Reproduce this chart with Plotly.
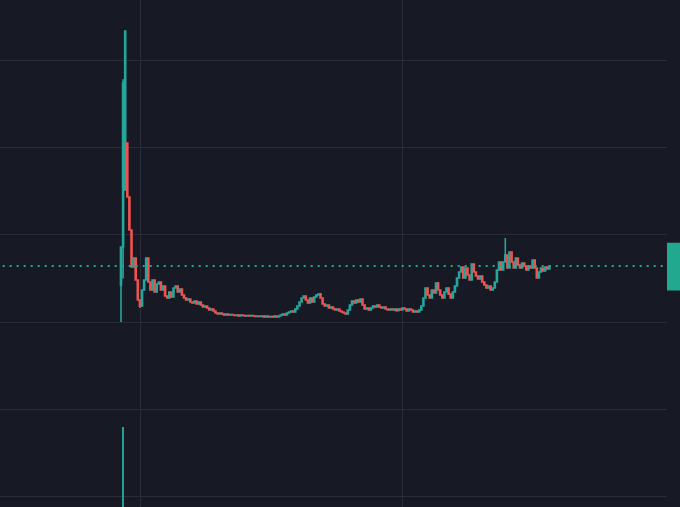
import plotly.graph_objects as go

# ---- data -------------------------------------------------------------
close_prices = [
    285.9, 473.8, 533.3, 343.2, 305.4, 263.0, 273.3, 248.1, 225.2, 218.3,
    236.7, 248.1, 273.3, 245.8, 236.7, 248.1, 234.4, 243.5, 245.8, 236.7,
    241.2, 229.8, 227.5, 234.4, 228.6, 239.0, 241.2, 234.4, 237.8, 230.9,
    227.5, 225.2, 226.4, 222.9, 221.8, 224.1, 220.6, 222.9, 219.5, 217.2,
    218.3, 216.0, 213.7, 214.9, 212.6, 210.3, 209.2, 210.3, 209.2, 208.0,
    209.2, 208.0, 208.6, 208.0, 207.4, 208.0, 206.9, 208.0, 207.4, 206.9,
    207.4, 206.9, 207.4, 206.9, 206.3, 206.9, 206.3, 206.9, 205.7, 206.9,
    205.7, 206.3, 205.7, 206.9, 205.7, 206.9, 208.0, 209.2, 208.0, 210.3,
    211.5, 212.6, 211.5, 214.9, 218.3, 222.9, 227.5, 229.8, 225.2, 221.8,
    227.5, 222.9, 228.6, 230.9, 232.0, 227.5, 220.6, 218.3, 219.5, 216.0,
    217.2, 214.9, 213.7, 214.9, 212.6, 211.5, 210.3, 209.2, 213.7, 219.5,
    224.1, 221.8, 225.2, 222.9, 226.4, 219.5, 214.9, 216.0, 213.7, 216.0,
    218.3, 217.2, 219.5, 217.2, 216.0, 217.2, 214.9, 213.7, 214.9, 213.7,
    214.9, 213.1, 214.9, 213.7, 216.0, 214.9, 212.6, 214.9, 213.7, 211.5,
    212.6, 211.5, 213.7, 218.3, 227.5, 239.0, 230.9, 227.5, 236.7, 233.2,
    244.7, 236.7, 230.9, 227.5, 234.4, 239.0, 232.0, 227.5, 234.4, 241.2,
    250.4, 257.3, 263.0, 250.4, 261.9, 253.8, 248.1, 266.5, 257.3, 252.7,
    249.3, 252.7, 245.8, 242.4, 239.0, 241.2, 236.7, 239.0, 245.8, 259.6,
    268.7, 259.6, 268.7, 276.7, 261.9, 280.2, 268.7, 261.9, 273.3, 265.3,
    261.9, 267.6, 264.2, 259.6, 264.2, 261.9, 271.0, 261.9, 250.4, 257.3,
    261.9, 258.4, 263.0, 260.7, 264.2,
]
first_open = 242.4
open_overrides = {2: 351.2, 3: 405.0}
high_overrides = {1: 478.0, 2: 533.3, 95: 233.2, 151: 245.8, 167: 266.5, 183: 296.2}
low_overrides = {0: 200.0, 1: 250.0, 9: 216.0, 10: 217.2}

volumes = [0.6, 100.0] + [0.4] * (len(close_prices) - 2)

last_price = close_prices[-1]

# ---- build OHLC ---------------------------------------------------------
idx = list(range(len(close_prices)))
opens = []
for i, c in enumerate(close_prices):
    o = first_open if i == 0 else close_prices[i - 1]
    opens.append(open_overrides.get(i, o))
highs = [high_overrides.get(i, max(o, c)) for i, (o, c) in enumerate(zip(opens, close_prices))]
lows = [low_overrides.get(i, min(o, c)) for i, (o, c) in enumerate(zip(opens, close_prices))]

UP = "#26a69a"
DOWN = "#ef5350"
BG = "#171a25"
GRID = "#2a2d39"

fig = go.Figure()
fig.add_trace(go.Bar(
    x=idx, y=volumes, yaxis="y2", width=0.6,
    marker=dict(color="rgba(38,166,154,0.95)", line=dict(width=0)),
    hoverinfo="skip", showlegend=False,
))
fig.add_trace(go.Candlestick(
    x=idx, open=opens, high=highs, low=lows, close=close_prices,
    increasing=dict(line=dict(color=UP, width=1.6), fillcolor=UP),
    decreasing=dict(line=dict(color=DOWN, width=1.6), fillcolor=DOWN),
    whiskerwidth=0, showlegend=False,
))

fig.add_shape(type="line", xref="paper", x0=0.004, x1=1.0, yref="y",
              y0=last_price, y1=last_price,
              line=dict(color=UP, width=2, dash="2px,5px"))
fig.add_shape(type="rect", xref="paper", x0=1.0, x1=1.03, yref="paper",
              y0=0.427, y1=0.521, fillcolor="#22a88f", line=dict(width=0))

fig.update_layout(
    width=680, height=507,
    margin=dict(l=0, r=13, t=0, b=0),
    paper_bgcolor=BG, plot_bgcolor=BG,
    xaxis=dict(range=[-57.62, 260.0], showgrid=True, gridcolor=GRID, gridwidth=1,
               tickvals=[9.52, 133.81], showticklabels=False, zeroline=False,
               rangeslider=dict(visible=False), fixedrange=True),
    yaxis=dict(range=[-11.9, 568.9], dtick=100, tick0=0, showgrid=True,
               gridcolor=GRID, gridwidth=1, showticklabels=False, zeroline=False),
    yaxis2=dict(range=[0, 633.75], overlaying="y", showgrid=False,
                showticklabels=False, zeroline=False),
    bargap=0,
)

fig.write_html("out.html", config={"displayModeBar": False},
               post_script="document.body.style.margin='0';")
